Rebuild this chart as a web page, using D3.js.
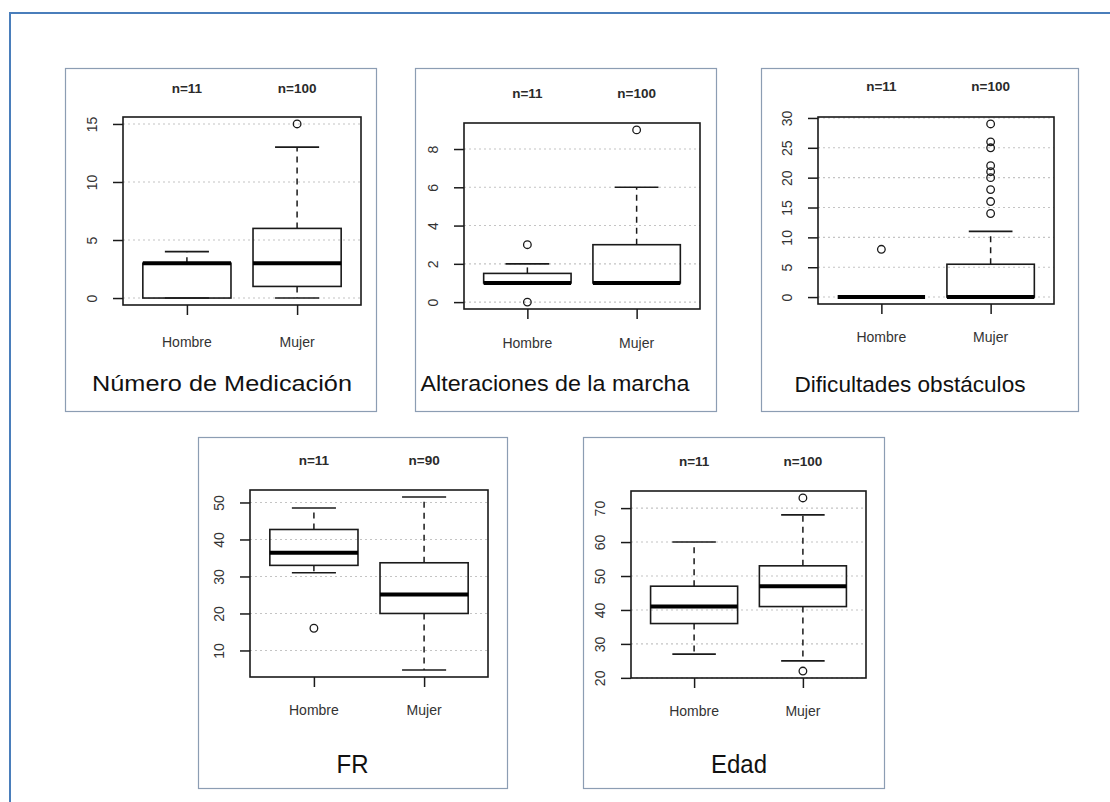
<!DOCTYPE html>
<html>
<head>
<meta charset="utf-8">
<script src="https://cdn.jsdelivr.net/npm/d3@7"></script>
<style>
  html, body { margin: 0; padding: 0; background: #fff; }
  svg { display: block; }
  text { font-family: "Liberation Sans", Arial, sans-serif; }
</style>
</head>
<body>
<svg id="chart" width="1110" height="802"></svg>
<script>
// Groups compared in every panel
const categories = ["Hombre", "Mujer"];
const panelTitles = ["Número de Medicación", "Alteraciones de la marcha", "Dificultades obstáculos", "FR", "Edad"];
const sampleSizes = [[11, 100], [11, 100], [11, 100], [11, 90], [11, 100]];

// Box summaries per group: [lower whisker, Q1, median, Q3, upper whisker]
const medicacionStats = [[0, 0, 3, 3, 4], [0, 1, 3, 6, 13]];
const medicacionOutliers = [[], [15]];
const medicacionTicks = [0, 5, 10, 15];

const marchaStats = [[1, 1, 1, 1.5, 2], [1, 1, 1, 3, 6]];
const marchaOutliers = [[0, 3], [9]];
const marchaTicks = [0, 2, 4, 6, 8];

const obstaculosStats = [[0, 0, 0, 0, 0], [0, 0, 0, 5.5, 11]];
const obstaculosOutliers = [[8], [14, 16, 18, 20, 21, 22, 25, 26, 29]];
const obstaculosTicks = [0, 5, 10, 15, 20, 25, 30];

const frStats = [[31, 33, 36.4, 42.7, 48.5], [4.7, 20, 25.1, 33.7, 51.5]];
const frOutliers = [[16], []];
const frTicks = [10, 20, 30, 40, 50];

const edadStats = [[27, 36, 41, 47, 60], [25, 41, 47, 53, 68]];
const edadOutliers = [[], [22, 73]];
const edadTicks = [20, 30, 40, 50, 60, 70];

const panelStats = [medicacionStats, marchaStats, obstaculosStats, frStats, edadStats];
const panelOutliers = [medicacionOutliers, marchaOutliers, obstaculosOutliers, frOutliers, edadOutliers];
const panelTicks = [medicacionTicks, marchaTicks, obstaculosTicks, frTicks, edadTicks];

// Page geometry of each framed panel: frame, plot box, text baselines
const layout = [
  { frame: [65, 68, 376, 411],  plot: [123, 117, 361, 305], nY: 93,  catY: 347, titleY: 391, titleX: 222, titleW: 260, titleSize: 22 },
  { frame: [415, 68, 716, 411], plot: [464, 123, 700, 309], nY: 98,  catY: 348, titleY: 391, titleX: 555, titleW: 269, titleSize: 22 },
  { frame: [761, 68, 1078, 411], plot: [818, 117, 1054, 304], nY: 91, catY: 342, titleY: 392, titleX: 910, titleW: 231, titleSize: 22 },
  { frame: [198, 437, 507, 788], plot: [250, 490, 488, 677], nY: 465, catY: 715, titleY: 773, titleX: 352.5, titleW: 32, titleSize: 25 },
  { frame: [583, 437, 884, 788], plot: [631, 491, 866, 678], nY: 466, catY: 716, titleY: 773, titleX: 739, titleW: 56, titleSize: 25 }
];

const svg = d3.select("#chart");
const ink = "#1a1a1a";

// Outer page frame
svg.append("path")
  .attr("d", "M10,802 V13 H1110")
  .attr("fill", "none")
  .attr("stroke", "#4a7ebb")
  .attr("stroke-width", 2);

layout.forEach((L, i) => {
  const stats = panelStats[i];
  const outs = panelOutliers[i];
  const ticks = panelTicks[i];
  const [fx0, fy0, fx1, fy1] = L.frame;
  const [px0, py0, px1, py1] = L.plot;

  const g = svg.append("g");

  g.append("rect")
    .attr("x", fx0 + 0.5).attr("y", fy0 + 0.5)
    .attr("width", fx1 - fx0).attr("height", fy1 - fy0)
    .attr("fill", "#fff")
    .attr("stroke", "#8c9db3")
    .attr("stroke-width", 1.2);

  // Value range padded by 4% on each side
  const all = stats.flat().concat(outs.flat());
  const lo = d3.min(all), hi = d3.max(all);
  const pad = (hi - lo) * 0.04;
  const y = d3.scaleLinear().domain([lo - pad, hi + pad]).range([py1, py0]);
  const x = d3.scaleLinear().domain([0.42, 2.58]).range([px0, px1]);
  const boxW = x(0.8) - x(0);
  const capW = x(0.4) - x(0);

  // Dotted reference lines
  g.append("g").selectAll("line").data(ticks).join("line")
    .attr("x1", px0).attr("x2", px1)
    .attr("y1", d => y(d)).attr("y2", d => y(d))
    .attr("stroke", "#c4c4c4")
    .attr("stroke-width", 1.1)
    .attr("stroke-dasharray", "2,3");

  // Left axis
  const yAxis = d3.axisLeft(y).tickValues(ticks).tickSize(10).tickPadding(0).tickFormat(d3.format("d"));
  const ya = g.append("g").attr("transform", `translate(${px0},0)`).call(yAxis);
  ya.select(".domain").remove();
  ya.selectAll(".tick line").attr("stroke", ink).attr("stroke-width", 1.5);
  ya.selectAll(".tick text")
    .attr("x", null).attr("dy", null)
    .attr("transform", "translate(-31,0) rotate(-90)")
    .attr("text-anchor", "middle")
    .attr("dominant-baseline", "central")
    .attr("font-size", 14)
    .attr("fill", "#333");

  // Bottom ticks at group positions
  const xAxis = d3.axisBottom(x).tickValues([1, 2]).tickSize(10).tickFormat("");
  const xa = g.append("g").attr("transform", `translate(0,${py1})`).call(xAxis);
  xa.select(".domain").remove();
  xa.selectAll(".tick line").attr("stroke", ink).attr("stroke-width", 1.5);

  stats.forEach((s, k) => {
    const cx = x(k + 1);
    const [wLo, q1, med, q3, wHi] = s;
    const bg = g.append("g");
    // whiskers
    bg.selectAll("line.wh").data([[q3, wHi], [q1, wLo]]).join("line")
      .attr("class", "wh")
      .attr("x1", cx).attr("x2", cx)
      .attr("y1", d => y(d[0])).attr("y2", d => y(d[1]))
      .attr("stroke", ink).attr("stroke-width", 1.5)
      .attr("stroke-dasharray", "6,5");
    // caps
    bg.selectAll("line.cap").data([wHi, wLo]).join("line")
      .attr("class", "cap")
      .attr("x1", cx - capW / 2).attr("x2", cx + capW / 2)
      .attr("y1", d => y(d)).attr("y2", d => y(d))
      .attr("stroke", ink).attr("stroke-width", 1.6);
    // box
    bg.append("rect")
      .attr("x", cx - boxW / 2).attr("width", boxW)
      .attr("y", y(q3)).attr("height", Math.max(0, y(q1) - y(q3)))
      .attr("fill", "none")
      .attr("stroke", ink).attr("stroke-width", 1.6);
    // median
    bg.append("line")
      .attr("x1", cx - boxW / 2).attr("x2", cx + boxW / 2)
      .attr("y1", y(med)).attr("y2", y(med))
      .attr("stroke", "#000").attr("stroke-width", 4);
    // outliers
    bg.selectAll("circle").data(outs[k]).join("circle")
      .attr("cx", cx).attr("cy", d => y(d)).attr("r", 3.8)
      .attr("fill", "none").attr("stroke", ink).attr("stroke-width", 1.3);
  });

  // plot frame
  g.append("rect")
    .attr("x", px0).attr("y", py0)
    .attr("width", px1 - px0).attr("height", py1 - py0)
    .attr("fill", "none").attr("stroke", ink).attr("stroke-width", 1.6);

  // sample size labels
  g.selectAll("text.n").data(sampleSizes[i]).join("text")
    .attr("class", "n")
    .attr("x", (d, k) => x(k + 1)).attr("y", L.nY)
    .attr("text-anchor", "middle")
    .attr("font-size", 13.5).attr("font-weight", "bold")
    .attr("fill", "#2a2a2a")
    .text(d => "n=" + d);

  // group labels
  g.selectAll("text.cat").data(categories).join("text")
    .attr("class", "cat")
    .attr("x", (d, k) => x(k + 1)).attr("y", L.catY)
    .attr("text-anchor", "middle")
    .attr("font-size", 14)
    .attr("fill", "#333")
    .text(d => d);

  // panel title
  g.append("text")
    .attr("x", L.titleX).attr("y", L.titleY)
    .attr("text-anchor", "middle")
    .attr("font-size", L.titleSize)
    .attr("fill", "#111")
    .attr("textLength", L.titleW)
    .attr("lengthAdjust", "spacingAndGlyphs")
    .text(panelTitles[i]);
});
</script>
</body>
</html>
